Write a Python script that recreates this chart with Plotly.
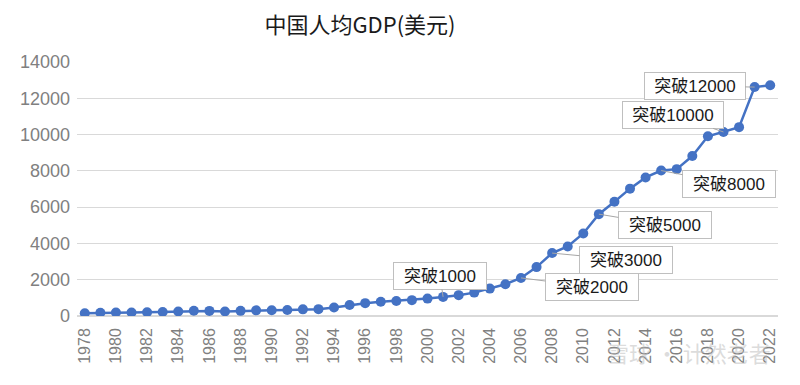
import plotly.graph_objects as go

years = list(range(1978, 2023))
gdp_per_capita = [156, 183, 195, 197, 203, 225, 251, 294, 282, 252,
                  284, 311, 318, 333, 367, 377, 473, 610, 709, 782,
                  829, 873, 959, 1053, 1149, 1289, 1509, 1753, 2099, 2694,
                  3468, 3832, 4550, 5614, 6301, 7020, 7636, 8016, 8094, 8817,
                  9905, 10144, 10409, 12618, 12720]

milestone_years = [2001, 2006, 2008, 2011, 2015, 2019, 2021]
milestone_labels = ["突破1000", "突破2000", "突破3000", "突破5000",
                    "突破8000", "突破10000", "突破12000"]
label_offsets = [(-3, -21), (71, 9), (74, 7), (66, 11), (68, 13), (-50, -17), (-60, -1)]

tick_years = list(range(1978, 2023, 2))
y_ticks = list(range(0, 14001, 2000))
y_ticktext = [str(v) for v in y_ticks]

fig = go.Figure()
fig.add_trace(go.Scatter(
    x=years, y=gdp_per_capita, mode="lines+markers",
    line=dict(color="#4472C4", width=2.5),
    marker=dict(color="#4472C4", size=10),
    hoverinfo="x+y", showlegend=False,
))

for yr, lab, (ax, ay) in zip(milestone_years, milestone_labels, label_offsets):
    val = gdp_per_capita[years.index(yr)]
    w = 86 if len(lab) <= 6 else 94
    fig.add_annotation(
        x=yr, y=val, text=lab, showarrow=True, arrowhead=0,
        arrowcolor="#a6a6a6", arrowwidth=1, ax=ax, ay=ay,
        font=dict(family="Liberation Sans, Noto Sans CJK SC", size=17, color="#1a1a1a"),
        bgcolor="white", bordercolor="#bfbfbf", borderwidth=1, borderpad=3,
        width=w, height=20,
    )

fig.add_annotation(
    xref="paper", yref="paper", x=0.993, y=-0.1435, xanchor="right", yanchor="middle",
    text="雪球 · 计然老者", showarrow=False,
    font=dict(family="Noto Sans CJK SC", size=22, color="rgba(190,190,190,0.55)"),
)

fig.update_layout(
    width=800, height=385,
    margin=dict(l=69, r=30, t=54, b=77),
    paper_bgcolor="white", plot_bgcolor="white",
    title=dict(text="中国人均GDP(美元)", x=0.44, xanchor="center", y=0.956, yanchor="middle",
               font=dict(family="Noto Sans CJK SC", size=22, color="#1a1a1a")),
    xaxis=dict(range=[1977.5, 2022.5], tickmode="array", tickvals=tick_years,
               ticktext=[str(t) for t in tick_years], tickangle=-90,
               tickfont=dict(family="Liberation Sans", size=16, color="#808080"),
               ticklabelstandoff=8,
               showgrid=False, showline=False, zeroline=False, ticks=""),
    yaxis=dict(range=[0, 14000], tickmode="array", tickvals=y_ticks, ticktext=y_ticktext,
               tickfont=dict(family="Liberation Sans", size=18, color="#808080"),
               ticklabelstandoff=6,
               showgrid=True, gridcolor="#d9d9d9", gridwidth=1,
               zeroline=True, zerolinecolor="#d9d9d9", zerolinewidth=1.5,
               showline=False, ticks="", ticklen=0),
)

fig.write_html("out.html")
